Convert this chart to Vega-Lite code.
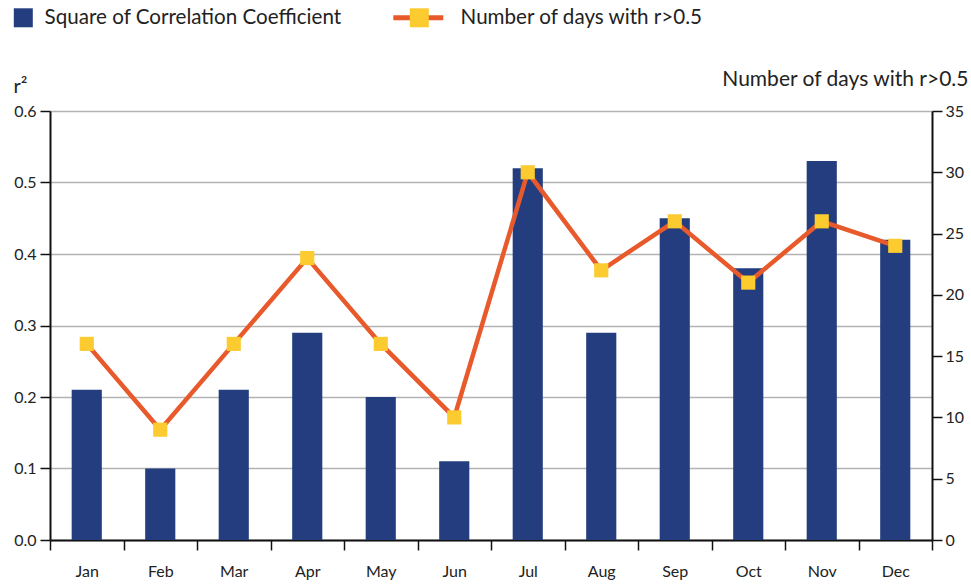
{
  "$schema": "https://vega.github.io/schema/vega-lite/v6.json",
  "width": 882,
  "height": 429,
  "autosize": {"type": "none"},
  "padding": {"left": 50, "top": 111, "right": 39, "bottom": 44},
  "background": "white",
  "config": {
    "view": {"stroke": null},
    "font": "Lato",
    "axis": {"labelFont": "Lato", "titleFont": "Lato", "labelColor": "#222", "titleColor": "#222", "labelFontSize": 16, "titleFontSize": 21, "titleFontWeight": "normal", "domainColor": "#111", "domainWidth": 2, "tickColor": "#111", "tickWidth": 1.5, "tickSize": 10},
    "legend": {"labelFont": "Lato", "labelFontSize": 20.6, "labelColor": "#222", "padding": 0, "labelLimit": 600}
  },
  "data": {"values": [
    {"month": "Jan", "r2": 0.21, "days": 16},
    {"month": "Feb", "r2": 0.10, "days": 9},
    {"month": "Mar", "r2": 0.21, "days": 16},
    {"month": "Apr", "r2": 0.29, "days": 23},
    {"month": "May", "r2": 0.20, "days": 16},
    {"month": "Jun", "r2": 0.11, "days": 10},
    {"month": "Jul", "r2": 0.52, "days": 30},
    {"month": "Aug", "r2": 0.29, "days": 22},
    {"month": "Sep", "r2": 0.45, "days": 26},
    {"month": "Oct", "r2": 0.38, "days": 21},
    {"month": "Nov", "r2": 0.53, "days": 26},
    {"month": "Dec", "r2": 0.42, "days": 24}
  ]},
  "encoding": {
    "x": {"field": "month", "type": "nominal", "sort": null,
      "scale": {"paddingInner": 0, "paddingOuter": 0},
      "axis": {"title": null, "labelAngle": 0, "tickBand": "extent", "labelPadding": 13, "grid": false}}
  },
  "layer": [
    {
      "mark": {"type": "bar", "width": {"band": 0.41}},
      "encoding": {
        "y": {"field": "r2", "type": "quantitative",
          "scale": {"domain": [0, 0.6], "nice": false},
          "axis": {"title": "r²", "values": [0, 0.1, 0.2, 0.3, 0.4, 0.5, 0.6], "format": ".1f", "grid": true, "gridColor": "#b3b3b3", "gridWidth": 1.5, "labelPadding": 4, "titleAngle": 0, "titleAlign": "left", "titleBaseline": "alphabetic", "titleX": -37, "titleY": -19, "titleFontSize": 20}},
        "fill": {"datum": "Square of Correlation Coefficient", "type": "nominal",
          "scale": {"range": ["#233d7e"]},
          "legend": {"title": null, "orient": "none", "legendX": -37, "legendY": -103.5, "symbolType": "square", "symbolSize": 361, "symbolStrokeWidth": 0, "labelOffset": 11}}
      }
    },
    {
      "encoding": {
        "y": {"field": "days", "type": "quantitative",
          "scale": {"domain": [0, 35], "nice": false},
          "axis": {"orient": "right", "title": "Number of days with r>0.5", "values": [0, 5, 10, 15, 20, 25, 30, 35], "grid": false, "labelPadding": 3, "titleAngle": 0, "titleAlign": "right", "titleBaseline": "alphabetic", "titleX": 36, "titleY": -26}}
      },
      "layer": [
        {
          "mark": {"type": "line", "strokeWidth": 4.5},
          "encoding": {
            "stroke": {"datum": "line", "type": "nominal",
              "scale": {"range": ["#e85a2b"]},
              "legend": {"title": null, "orient": "none", "legendX": 358, "legendY": -103.5, "symbolType": "M-2.5,-0.25H2.5V0.25H-2.5Z", "symbolSize": 400, "symbolFillColor": "#e85a2b", "symbolStrokeColor": "#e85a2b", "symbolStrokeWidth": 0, "labelExpr": "''", "zindex": 0}}
          }
        },
        {
          "mark": {"type": "point", "filled": true, "fill": "#fccb2f", "opacity": 1, "size": 200, "strokeWidth": 0},
          "encoding": {
            "shape": {"datum": "Number of days with r>0.5", "type": "nominal",
              "scale": {"range": ["square"]},
              "legend": {"title": null, "orient": "none", "legendX": 359, "legendY": -103.5, "symbolSize": 361, "symbolFillColor": "#fccb2f", "symbolStrokeWidth": 0, "labelOffset": 31, "zindex": 1}}
          }
        }
      ]
    }
  ],
  "resolve": {"scale": {"y": "independent"}}
}
